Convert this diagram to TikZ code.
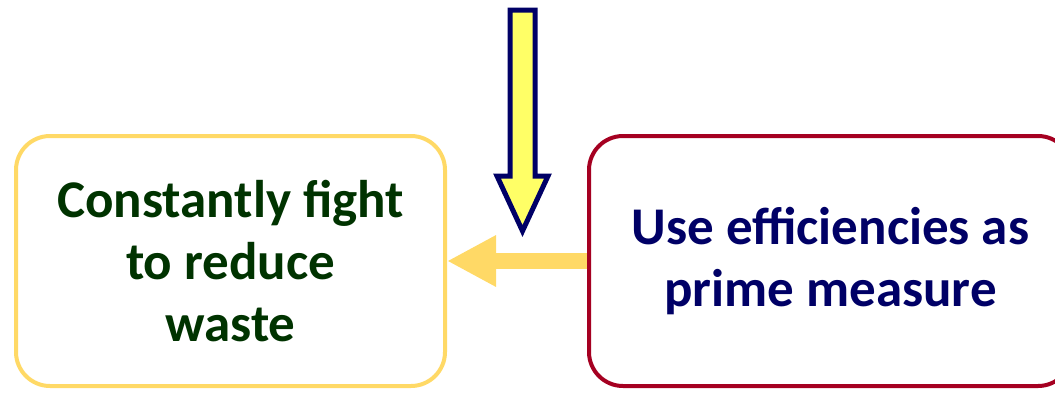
\documentclass[tikz,border=0pt]{standalone}
\usepackage{fontspec}
\setmainfont{Carlito}
\usepackage{xcolor}
\usepackage{tikz}
\usetikzlibrary{arrows.meta, positioning}
\definecolor{goldcolor}{HTML}{FFD966}
\definecolor{wastecolor}{HTML}{003300}
\definecolor{navycolor}{HTML}{000066}
\definecolor{rimcolor}{HTML}{A50021}
\definecolor{pushcolor}{HTML}{FFFF66}

\begin{document}
\begin{tikzpicture}[x=1pt, y=-1pt, font=\bfseries\fontsize{53}{62}\selectfont,
    goalbox/.style={rectangle, rounded corners=34pt, line width=4pt, fill=white,
        align=center, minimum height=250pt, inner sep=0pt}]

    \useasboundingbox (0,0) rectangle (1055,392);

    % Boxes
    \node[goalbox, draw=goldcolor, text=wastecolor, minimum width=429pt] (waste)
        at (230.5,261) {Constantly fight\\to reduce\\waste};
    \node[goalbox, draw=rimcolor, text=navycolor, minimum width=483pt] (effic)
        at (830.5,261) {Use efficiencies as\\prime measure};

    % Link between the boxes
    \draw[-{Triangle[length=49pt, width=48pt]}, line width=16pt, goldcolor]
        (effic.west) -- (waste.east);

    % Incoming push (block arrow)
    \draw[navycolor, fill=pushcolor, line width=5pt, line join=miter]
        (510,10) -- (535,10) -- (535,176) -- (548,176) -- (522.5,231)
        -- (497,176) -- (510,176) -- cycle;

\end{tikzpicture}
\end{document}
